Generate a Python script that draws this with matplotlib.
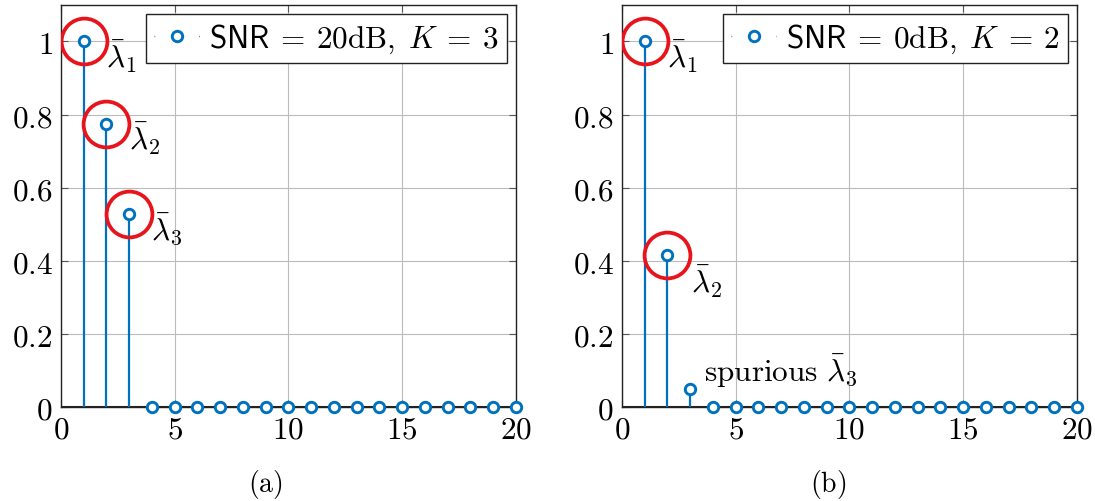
import numpy as np
import matplotlib
matplotlib.use("Agg")
import matplotlib.pyplot as plt
from matplotlib.lines import Line2D

plt.rcParams['mathtext.fontset'] = 'cm'
plt.rcParams['font.family'] = 'serif'
plt.rcParams['font.serif'] = ['DejaVu Serif']

# datos
indices = np.arange(1, 21)
valores_a = [1.0, 0.775, 0.527] + [0.0] * 17
valores_b = [1.0, 0.415, 0.05] + [0.0] * 17
marcados_a = [0, 1, 2]
marcados_b = [0, 1]
leyenda_a = r'$\mathsf{SNR}\: = \:20\mathrm{dB},\; K\: = \:3$'
leyenda_b = r'$\mathsf{SNR}\: = \:0\mathrm{dB},\; K\: = \:2$'
etiquetas = [r'$\bar{\lambda}_1$', r'$\bar{\lambda}_2$', r'$\bar{\lambda}_3$']

AZUL = '#0072BD'
FS = 22.5
HL = 1.45  # largo del simbolo de leyenda (en unidades de fuente)

fig = plt.figure(figsize=(10.95, 5.02), dpi=100)
ax_a = fig.add_axes([0.0557, 0.1873, 0.4155, 0.801])
ax_b = fig.add_axes([0.568, 0.1873, 0.4155, 0.801])


def dibujar(ax, valores, marcados, leyenda):
    for x, v in zip(indices, valores):
        if v > 0:
            ax.plot([x, x], [0, v], color=AZUL, lw=1.6, zorder=3)
    ax.axhline(0, color='#222222', lw=2.2, zorder=2)
    ax.plot(indices, valores, 'o', mfc='white', mec=AZUL, ms=7.5, mew=2.1, zorder=5, clip_on=False)
    for i in marcados:
        ax.plot(indices[i], valores[i], 'o', mfc='none', mec='#E8141B', ms=33, mew=2.7, zorder=6)
    ax.set_xlim(0, 20)
    ax.set_ylim(0, 1.1)
    ax.set_xticks([0, 5, 10, 15, 20])
    ax.set_yticks([0, 0.2, 0.4, 0.6, 0.8, 1])
    ax.set_xticklabels([r'$0$', r'$5$', r'$10$', r'$15$', r'$20$'], fontsize=FS)
    ax.set_yticklabels([r'$0$', r'$0.2$', r'$0.4$', r'$0.6$', r'$0.8$', r'$1$'], fontsize=FS)
    ax.grid(True, color='#BBBBBB', lw=0.8)
    ax.set_axisbelow(True)
    ax.tick_params(direction='in', length=5, width=0.8, right=True, top=True, color='#555555')
    ax.tick_params(axis='y', pad=6)
    ax.tick_params(axis='x', pad=5)
    for s in ax.spines.values():
        s.set_linewidth(1.0)
        s.set_color('#222222')
    largo = HL * FS
    h = Line2D([0], [0], marker='o', ls=(0, (0.5, largo - 1.0)), lw=1.0, color=AZUL,
               mfc='white', mec=AZUL, ms=7.5, mew=2.1)
    leg = ax.legend([h], [leyenda], loc='upper right', fontsize=FS, frameon=True, fancybox=False,
                    framealpha=1, edgecolor='#222222', borderaxespad=0.3, handlelength=HL,
                    handletextpad=0.3, borderpad=0.25)
    leg.get_frame().set_linewidth(1.0)


dibujar(ax_a, valores_a, marcados_a, leyenda_a)
dibujar(ax_b, valores_b, marcados_b, leyenda_b)

for i in range(3):
    ax_a.annotate(etiquetas[i], (indices[i], valores_a[i]), xytext=(16, 3),
                  textcoords='offset points', ha='left', va='top', fontsize=FS)
ax_b.annotate(etiquetas[0], (indices[0], valores_b[0]), xytext=(16, 3),
              textcoords='offset points', ha='left', va='top', fontsize=FS)
ax_b.annotate(etiquetas[1], (indices[1], valores_b[1]), xytext=(17, -5),
              textcoords='offset points', ha='left', va='top', fontsize=FS)
ax_b.annotate(r'$\mathrm{spurious}\ \bar{\lambda}_3$', (indices[2], valores_b[2]), xytext=(10, 6),
              textcoords='offset points', ha='left', va='baseline', fontsize=FS)

fig.text(265 / 1095, 1 - 485 / 502, r'$\mathrm{(a)}$', ha='center', va='center', fontsize=20)
fig.text(828 / 1095, 1 - 485 / 502, r'$\mathrm{(b)}$', ha='center', va='center', fontsize=20)

fig.savefig('out.png', dpi=100)
